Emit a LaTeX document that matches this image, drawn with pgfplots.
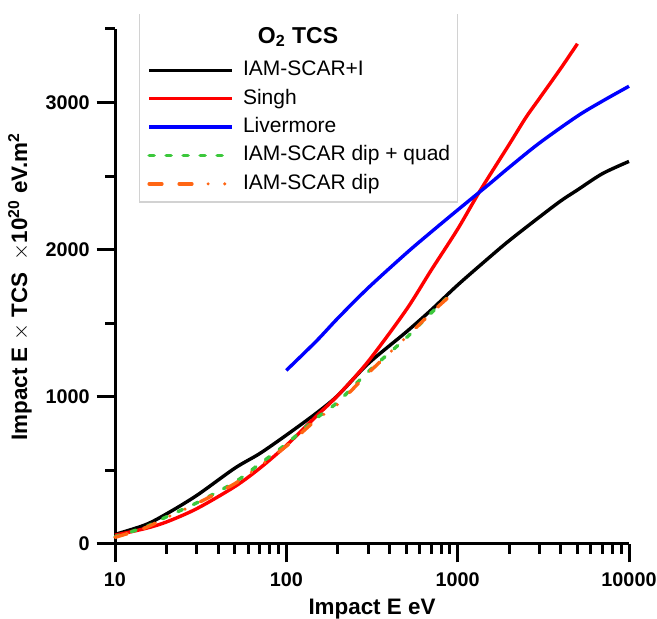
\documentclass[border=0pt]{standalone}
\usepackage{fontspec}
\setmainfont{Liberation Sans}
\usepackage{pgfplots}
\pgfplotsset{compat=1.18}
\definecolor{dipquad}{RGB}{60,200,60}
\definecolor{diponly}{RGB}{255,102,20}

\begin{document}
\begin{tikzpicture}
\useasboundingbox (-57.5pt,-37.5pt) rectangle (271pt,272pt);
\begin{axis}[
  at={(0,0)}, anchor=south west,
  scale only axis, width=257pt, height=257.5pt,
  xmode=log, xmin=10, xmax=10000, ymin=0, ymax=3500,
  clip=false,
  axis x line*=bottom, axis y line*=left,
  axis line style={line width=1.5pt},
  tick align=outside,
  major tick length=9.2pt, minor tick length=4.8pt,
  every tick/.style={line width=1.5pt, black},
  xtick={10,100,1000,10000}, xticklabels={10,100,1000,10000},
  ytick={0,1000,2000,3000}, yticklabels={0,1000,2000,3000},
  minor ytick={500,1500,2500,3500},
  tick label style={font=\fontsize{9.9}{11}\selectfont\bfseries},
  xticklabel style={yshift=-1.5pt},
  xlabel={Impact E eV},
  ylabel={Impact E $\times$ TCS\ \ $\times$10\textsuperscript{20} eV.m\textsuperscript{2}},
  label style={font=\fontsize{11.2}{13}\selectfont\bfseries},
  xlabel style={at={(rel axis cs:0.5,-0.136)}, anchor=base},
  ylabel style={at={(rel axis cs:-0.171,0.5)}, anchor=base, rotate=0},
  legend style={at={(rel axis cs:0.0623,0.94)}, anchor=north west,
    draw=none, fill=none, inner sep=0pt, row sep=4.2pt, column sep=4.6pt,
    font=\fontsize{10.5}{12}\selectfont,
    nodes={inner sep=0pt, text height=7.7pt, text depth=2.3pt}},
  legend cell align=left,
  legend image code/.code={\draw[#1] (-1.5pt,0pt) -- (40pt,0pt);},
  every axis plot/.append style={line width=1.7pt},
]
\addplot[black, smooth] coordinates {
  (10,65) (15,130) (20,205) (30,330) (50,515) (70,615) (100,740) (150,890)
  (200,1010) (300,1225) (500,1440) (700,1590) (1000,1760) (1500,1939)
  (2000,2062) (3000,2222) (4000,2332) (5000,2406) (7000,2517) (10000,2600)};
\addlegendentry{IAM-SCAR+I}
\addplot[red, smooth] coordinates {
  (10,60) (15,105) (20,150) (30,240) (50,390) (70,515) (100,670) (150,870)
  (200,1010) (300,1240) (500,1590) (700,1860) (1000,2140) (1350,2400)
  (2000,2716) (2500,2898) (3000,3028) (4000,3233) (5000,3400)};
\addlegendentry{Singh}
\addplot[blue, smooth] coordinates {
  (100,1180) (150,1380) (200,1535) (300,1740) (500,1975) (700,2120)
  (1000,2270) (1500,2438) (2000,2560) (3000,2725) (5000,2908)
  (7000,3010) (10000,3111)};
\addlegendentry{Livermore}
\addplot[dipquad, smooth, line cap=round, dash pattern=on 2.5pt off 6pt] coordinates {
  (10,50) (15,115) (20,185) (30,280) (50,420) (70,545) (100,680) (150,855)
  (200,965) (300,1170) (500,1400) (700,1570) (900,1690)};
\addlegendentry{IAM-SCAR dip + quad}
\addplot[diponly, smooth, line cap=round,
  dash pattern=on 6.4pt off 8.6pt on 6.4pt off 8.1pt on 0pt off 8.3pt on 0pt off 8.6pt] coordinates {
  (10,45) (15,110) (20,180) (30,275) (50,410) (70,530) (100,665) (150,845)
  (200,950) (300,1160) (500,1405) (700,1570) (900,1685)};
\addlegendentry{IAM-SCAR dip}
\draw[gray!35, line width=0.6pt] (rel axis cs:0.0473,1.029) -- (rel axis cs:0.0473,0.664)
  -- (rel axis cs:0.667,0.664) -- (rel axis cs:0.667,1.029);
\node[anchor=base, font=\fontsize{11.5}{13}\selectfont\bfseries]
  at (rel axis cs:0.356,0.9722) {O\textsubscript{2} TCS};
\end{axis}
\end{tikzpicture}
\end{document}
